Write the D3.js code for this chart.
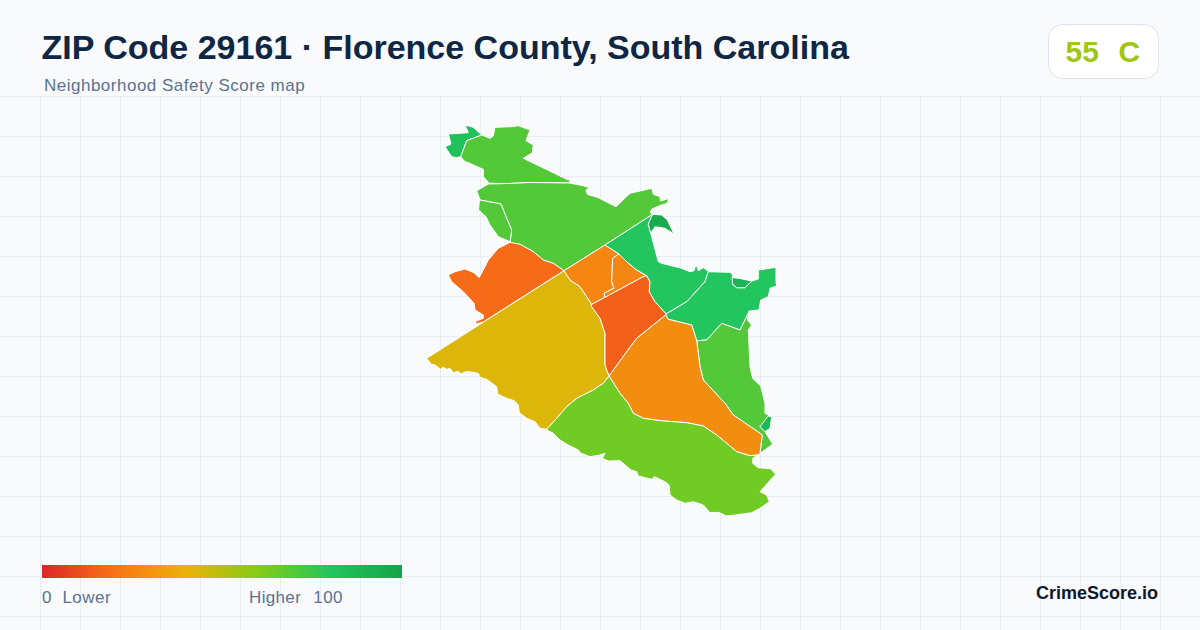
<!DOCTYPE html>
<html lang="en">
<head>
    <meta charset="UTF-8">
    <title>ZIP Code 29161 Safety Score</title>
    <script src="https://d3js.org/d3.v7.min.js"></script>
    <style>
        html, body {
            margin: 0;
            padding: 0;
            background-color: #f8fafc;
        }
        svg {
            display: block;
            font-family: "Liberation Sans", Arial, sans-serif;
        }
    </style>
</head>
<body>
    <svg id="map" width="1200" height="630"></svg>
    <script>
        const titleText = 'ZIP Code 29161 · Florence County, South Carolina';
        const subtitleText = 'Neighborhood Safety Score map';
        const overallScore = 55;
        const overallGrade = 'C';

        // Colour ramp of the legend
        const rampStops = [0, 20, 40, 60, 80, 100];
        const rampColors = ['#dc2626', '#f97316', '#eab308', '#84cc16', '#22c55e', '#16a34a'];

        // Tract score, same order as tractRings
        const tractScores = [83, 70, 70, 70, 18, 42.5, 26, 26, 15, 80, 95, 80, 90, 70, 88, 28, 64];

        // Tract outlines in map units (0-352 across, 0-392 down)
        const ringNorthwest = [[39,0],[47.3,2.3],[55.7,10],[40.7,15.7],[34.7,31.7],[30.7,32.7],[25.7,31.7],[19,21.7],[25,19],[22.3,9],[42.3,7.7]];
        const ringNorth = [[55.7,10],[64,13.3],[67.3,11],[69,2.3],[85.7,1.7],[92.3,0.7],[104,5],[100,15.7],[107.3,20],[106.3,27.7],[97.3,33.3],[142.3,55],[144,52.3],[143.3,58],[104,57.5],[82.3,58.5],[63.3,58.3],[57.3,51.7],[57.3,44.3],[47.3,40],[44,38.3],[39,36.7],[34.7,31.7],[40.7,15.7]];
        const ringUpper = [[50.7,65.7],[62.3,59],[82.3,58.5],[104,57.5],[143.3,58],[154,60],[164,62.7],[160,65],[161.3,69.3],[172.3,72.7],[190,81.7],[204,68.3],[225.7,63.3],[227.3,69.3],[234,71.7],[234.5,76],[242.8,73.5],[241,78.5],[234,80.5],[226,84],[224,87.3],[226.7,89.3],[179,120],[138,145.7],[127.3,138.3],[117.3,135],[107.3,126.7],[94,119.3],[84,118.3],[85.7,105],[80,91.7],[75,79],[54,75]];
        const ringSliver = [[54,75],[75,79],[80,91.7],[85.7,105],[84,116.7],[72.3,111.7],[64,100],[60,91.7],[52.5,85],[53.3,76.7]];
        const ringWest = [[138,145.7],[57.3,197],[49.7,199],[49.7,196.3],[57.3,193.3],[57.3,190],[49,185],[48,178.3],[37.3,166.7],[25.7,156.7],[22.3,150],[29,146.7],[39,144],[48,147.7],[53,152.7],[59,141.7],[62.3,135],[72.3,123.3],[84,117.3],[94,119.3],[107.3,126.7],[117.3,135],[127.3,138.3]];
        const ringSouthwest = [[138,145.7],[0.7,233.3],[5,239],[9,240],[14.7,244.3],[17.3,242.3],[20.7,244.3],[24,243.3],[27.3,247.7],[32.3,246.3],[35,249],[40.7,246.3],[52.3,248.3],[54,252.3],[60.7,254.3],[70.7,261.7],[71.7,269],[80.7,273.3],[88.3,275.7],[92.3,280],[93.3,287.7],[100.7,293.3],[109,296.7],[114,303.3],[120.7,304.3],[130.7,293.3],[140.7,281.7],[150.7,273.3],[167.3,265],[177.3,258.3],[183,251],[179,240],[179,208.3],[174,193.3],[165.7,181.7],[164.7,177.7],[154,161.7],[144,155]];
        const ringTownWest = [[138,145.7],[179,120],[193,129],[186.7,133.3],[185.7,156.7],[188,163.3],[178,168.3],[179,172.4],[165.2,179.7],[164.7,177.7],[154,161.7],[144,155]];
        const ringTownEast = [[193,129],[200.7,136.7],[210.7,145],[220.7,150.7],[216.7,152],[179,172.4],[178,168.3],[188,163.3],[185.7,156.7],[186.7,133.3]];
        const ringCentral = [[165.2,179.7],[216.7,152],[220.7,150.7],[224,156.7],[223.3,166.7],[229,176.7],[239.7,188.3],[239.7,190],[210.7,213.3],[200.7,226.7],[183,251],[179,240],[179,208.3],[174,193.3],[165.7,181.7]];
        const ringNortheast = [[179,120],[226.7,89.3],[224,95],[222.3,99.3],[224.7,108.3],[232.3,136.7],[235.7,138.3],[255.7,143.3],[264,146.7],[268,145.7],[270,139.3],[272.3,145.7],[277.3,142.7],[280.7,145],[282.3,146.7],[279,156.7],[260.7,176.7],[240,189],[239.7,188.3],[229,176.7],[223.3,166.7],[224,156.7],[220.7,150.7],[210.7,145],[200.7,136.7],[193,129]];
        const ringNeckNorth = [[226.7,89.3],[235.7,90],[241.3,95],[248,109],[239,103.3],[229,101.7],[224.7,108.3],[222.3,99.3],[224,95]];
        const ringEast = [[282.3,146.7],[304,147.3],[306.7,150],[306.7,159.3],[310.7,162.7],[319,162.7],[325.7,156],[332.3,154],[332.3,145],[347.3,142.7],[350,142.7],[350,156.7],[350.7,161],[344,163.3],[342.3,171.7],[334.7,175],[333,185],[323.3,186],[314,205],[295.7,198.3],[280.7,215],[270.7,215.7],[265.7,200],[242.3,194.3],[239.7,190],[240,189],[260.7,176.7],[279,156.7]];
        const ringNeckEast = [[306,152.5],[306.7,159.3],[310.7,162.7],[319,162.7],[325.7,156],[314,153.5]];
        const ringRiver = [[323.3,186],[321.3,195],[325.7,200],[322.3,205],[324,241.7],[326.7,253.3],[334.7,261],[339,278.3],[339,288.3],[344,291],[334,301.7],[339,306.7],[346.7,319.3],[334,328.3],[336.3,310],[334,308.3],[307.3,290],[299,278.3],[277.3,255],[274,241.7],[270.7,215.7],[280.7,215],[295.7,198.3],[314,205]];
        const ringRiverBend = [[342.3,291],[345.7,291.7],[344,303.3],[339,306.7],[334,301.7]];
        const ringMiddle = [[239.7,190],[242.3,194.3],[265.7,200],[270.7,215.7],[274,241.7],[277.3,255],[299,278.3],[307.3,290],[334,308.3],[336.3,310],[334,328.3],[332.3,330],[324,330.7],[310.7,326.7],[300.7,318.3],[290.7,310],[277.3,301],[260.7,297.7],[234,295.7],[217.3,293.3],[207.3,288.3],[202.3,278.3],[194,268.3],[183,251],[200.7,226.7],[210.7,213.3]];
        const ringSouth = [[183,251],[194,268.3],[202.3,278.3],[207.3,288.3],[217.3,293.3],[234,295.7],[260.7,297.7],[277.3,301],[290.7,310],[300.7,318.3],[310.7,326.7],[324,330.7],[332.3,330],[327,333],[326.7,338.3],[332,342.7],[344.5,343.8],[349.7,349],[334,366.7],[340.7,370],[343.3,376.7],[334,383.3],[325.7,387.7],[309,390],[300.7,391],[292.3,387.3],[284,387.7],[277.3,380],[267.3,376.7],[259,378.3],[250.7,375],[244,370],[243,360],[239,356.7],[228.3,351.7],[225.7,354.3],[212.3,351],[210.7,346.7],[205,345],[194,335.7],[182.3,336],[176.3,333.3],[179,328.3],[174,330],[164,331.7],[154,327.7],[152.3,325],[142.3,320],[134,315],[127.3,308.3],[122.3,305.7],[120.7,304.3],[130.7,293.3],[140.7,281.7],[150.7,273.3],[167.3,265],[177.3,258.3]];

        const tractRings = [
            ringNorthwest, ringNorth, ringUpper, ringSliver, ringWest, ringSouthwest,
            ringTownWest, ringTownEast, ringCentral, ringNortheast, ringNeckNorth, ringEast,
            ringNeckEast, ringRiver, ringRiverBend, ringMiddle, ringSouth
        ];

        const svg = d3.select('#map');

        const color = d3.scaleLinear().domain(rampStops).range(rampColors);

        // Background grid
        const gridX = d3.range(40.5, 1200, 40);
        const gridY = d3.range(96.5, 630, 40);
        const grid = svg.append('g').attr('stroke', '#e7eef3').attr('stroke-width', 1);
        grid.selectAll('.gx').data(gridX).join('line')
            .attr('x1', d => d).attr('x2', d => d)
            .attr('y1', 96).attr('y2', 630);
        grid.selectAll('.gy').data(gridY).join('line')
            .attr('x1', 0).attr('x2', 1200)
            .attr('y1', d => d).attr('y2', d => d);

        // Map
        const xScale = d3.scaleLinear().domain([0, 352]).range([426, 778]);
        const yScale = d3.scaleLinear().domain([0, 392]).range([125, 517]);
        const ringPath = d3.line()
            .x(d => xScale(d[0]))
            .y(d => yScale(d[1]))
            .curve(d3.curveLinearClosed);

        svg.append('g').selectAll('path')
            .data(tractRings)
            .join('path')
            .attr('d', ringPath)
            .attr('fill', (d, i) => color(tractScores[i]))
            .attr('stroke', '#ffffff')
            .attr('stroke-width', 1)
            .attr('stroke-linejoin', 'round');

        // Header
        svg.append('text')
            .attr('x', 41.5).attr('y', 59)
            .attr('font-size', 34).attr('font-weight', 700)
            .attr('fill', '#0f2744')
            .text(titleText);
        svg.append('text')
            .attr('x', 44).attr('y', 90.5)
            .attr('font-size', 17).attr('letter-spacing', 0.5)
            .attr('fill', '#5b7190')
            .text(subtitleText);

        // Score badge
        svg.append('rect')
            .attr('x', 1048.5).attr('y', 24.5)
            .attr('width', 110).attr('height', 54).attr('rx', 14)
            .attr('fill', '#ffffff').attr('stroke', '#dde4ee');
        svg.append('text')
            .attr('x', 1065.5).attr('y', 62)
            .attr('font-size', 30).attr('font-weight', 700)
            .attr('fill', color(overallScore))
            .text(overallScore);
        svg.append('text')
            .attr('x', 1118.5).attr('y', 62)
            .attr('font-size', 30).attr('font-weight', 700)
            .attr('fill', color(overallScore))
            .text(overallGrade);

        // Legend
        const legendScale = d3.scaleLinear().domain([0, 100]).range([42, 402]);
        const gradient = svg.append('defs').append('linearGradient')
            .attr('id', 'ramp');
        gradient.selectAll('stop').data(rampStops).join('stop')
            .attr('offset', d => d + '%')
            .attr('stop-color', d => color(d));
        svg.append('rect')
            .attr('x', legendScale(0)).attr('y', 565)
            .attr('width', legendScale(100) - legendScale(0)).attr('height', 13)
            .attr('fill', 'url(#ramp)');
        svg.append('text')
            .attr('x', 42).attr('y', 602.5)
            .attr('font-size', 17).attr('letter-spacing', 0.5).attr('fill', '#5b7190')
            .style('white-space', 'pre')
            .text('0  Lower');
        svg.append('text')
            .attr('x', 249).attr('y', 602.5)
            .attr('font-size', 17).attr('letter-spacing', 0.35).attr('word-spacing', 1)
            .attr('fill', '#5b7190')
            .style('white-space', 'pre')
            .text('Higher  100');

        svg.append('text')
            .attr('x', 1158).attr('y', 599)
            .attr('text-anchor', 'end')
            .attr('font-size', 18).attr('font-weight', 700)
            .attr('fill', '#0f172a')
            .text('CrimeScore.io');
    </script>
</body>
</html>
